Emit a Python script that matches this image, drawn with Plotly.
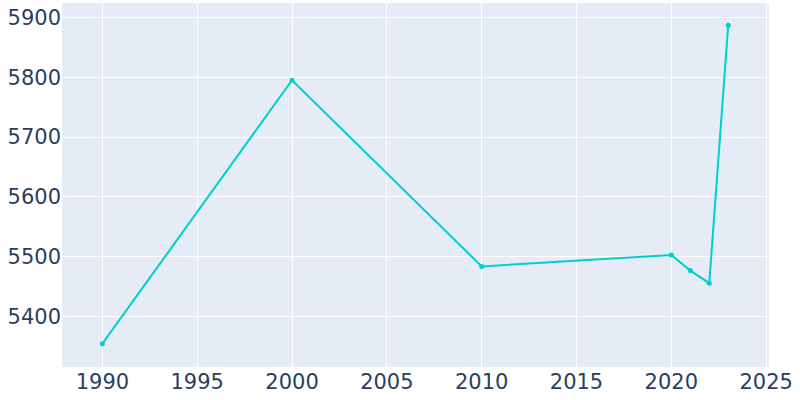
import plotly.graph_objects as go

years = [1990, 2000, 2010, 2020, 2021, 2022, 2023]
population = [5355, 5795, 5484, 5503, 5477, 5456, 5887]

fig = go.Figure()
fig.add_trace(go.Scatter(
    x=years, y=population, mode="lines+markers",
    line=dict(color="#00CED1", width=2),
    marker=dict(color="#00CED1", size=5),
))
fig.update_layout(
    template="plotly",
    width=800, height=400,
    margin=dict(l=62, r=31, t=3, b=33),
    showlegend=False,
    font=dict(family="DejaVu Sans", size=21, color="#2a3f5f"),
)
fig.update_xaxes(range=[1987.87, 2025.15], dtick=5, tick0=1990, automargin=False)
fig.update_yaxes(range=[5316, 5924], dtick=100, automargin=False)
fig.write_html("out.html", config={"displayModeBar": False},
               post_script="document.body.style.margin='0';")
